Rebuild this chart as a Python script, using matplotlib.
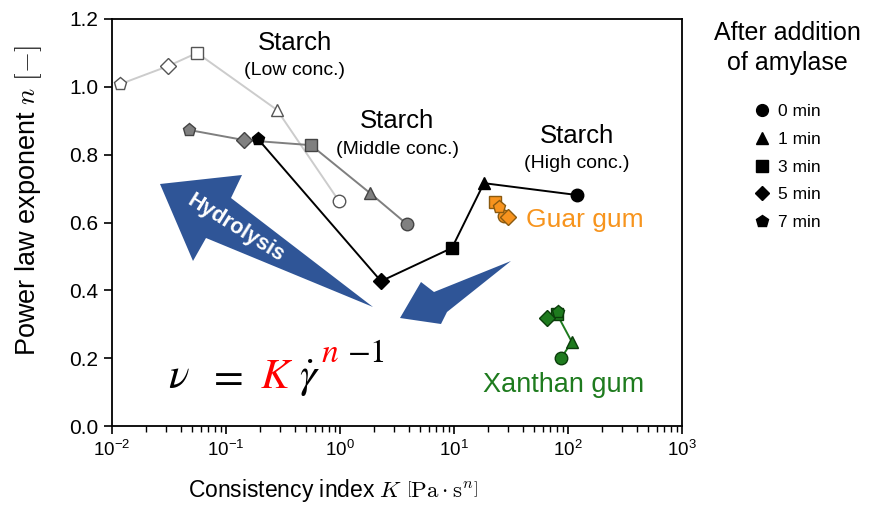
import matplotlib
matplotlib.use("Agg")
import matplotlib.pyplot as plt
from matplotlib.lines import Line2D
from matplotlib.patches import Polygon
import numpy as np

plt.rcParams['font.family'] = ['Liberation Sans', 'DejaVu Sans']
plt.rcParams['mathtext.fontset'] = 'custom'
plt.rcParams['mathtext.rm'] = 'Liberation Sans'
plt.rcParams['mathtext.it'] = 'Liberation Sans:italic'
plt.rcParams['mathtext.bf'] = 'Liberation Sans:bold'

W, H = 874, 513

# ---------------- data ----------------
times = [0, 1, 3, 5, 7]
markers = ['o', '^', 's', 'D', 'p']
legend_labels = ['0 min', '1 min', '3 min', '5 min', '7 min']

low_K = [0.98, 0.28, 0.0557, 0.031, 0.0118]
low_n = [0.663, 0.932, 1.10, 1.061, 1.008]

mid_K = [3.87, 1.83, 0.557, 0.144, 0.047]
mid_n = [0.595, 0.687, 0.828, 0.843, 0.873]

high_K = [120, 18.3, 9.6, 2.29, 0.191]
high_n = [0.681, 0.716, 0.525, 0.427, 0.846]

guar_times = [0, 3, 5, 7]
guar_K = [27.5, 22.9, 29.8, 24.8]
guar_n = [0.619, 0.660, 0.616, 0.646]

xan_K = [86.9, 108, 80, 65.5, 81.7]
xan_n = [0.200, 0.248, 0.330, 0.318, 0.336]

xticks = [1e-2, 1e-1, 1e0, 1e1, 1e2, 1e3]
yticks = [0.0, 0.2, 0.4, 0.6, 0.8, 1.0, 1.2]
ytick_labels = ['0.0', '0.2', '0.4', '0.6', '0.8', '1.0', '1.2']

# ---------------- figure ----------------
fig = plt.figure(figsize=(W / 100, H / 100), dpi=100)
ax = fig.add_axes([112 / W, 1 - 426 / H, (682 - 112) / W, (426 - 19) / H])
ax.set_xscale('log')
ax.set_xlim(1e-2, 1e3)
ax.set_ylim(0, 1.2)
ax.set_xticks(xticks)
ax.set_yticks(yticks)
ax.set_yticklabels(ytick_labels)
for s in ax.spines.values():
    s.set_linewidth(1.3)
ax.tick_params(which='major', direction='out', length=6, width=1.2, pad=4)
ax.tick_params(axis='x', which='major', labelsize=13.5)
ax.tick_params(axis='y', which='major', labelsize=15)
ax.tick_params(which='minor', direction='out', length=4, width=1.0)
ax.tick_params(axis='y', which='minor', left=False)

ms = 9
mk_size = {'o': ms, '^': ms, 's': ms - 0.5, 'D': ms - 1, 'p': ms + 0.5}


def series(K, n, tlist, line_c, face, edge, lw=1.4):
    ax.plot(K, n, '-', color=line_c, lw=lw, zorder=2)
    for k, v, t in zip(K, n, tlist):
        m = markers[times.index(t)]
        ax.plot([k], [v], linestyle='none', marker=m, markersize=mk_size[m],
                markerfacecolor=face, markeredgecolor=edge, markeredgewidth=1.0, zorder=3)


series(low_K, low_n, times, '#cccccc', 'white', '#555555')
series(mid_K, mid_n, times, '#7f7f7f', '#808080', '#444444')
series(high_K, high_n, times, '#000000', '#000000', '#000000')
series(guar_K, guar_n, guar_times, '#8a5a10', '#F7931E', '#8a5a10', lw=1.0)
series(xan_K, xan_n, times, '#1E7B1E', '#1E7B1E', '#0b3d0b', lw=1.4)


def px(x, y):
    return (x / W, 1 - y / H)


# labels
ax.set_ylabel(r'Power law exponent $n\ [-]$', fontsize=19.5, math_fontfamily='cm')
ax.yaxis.set_label_coords((44 - 112) / 570, 0.555)
ax.set_xlabel(r'Consistency index $K\ \left[\mathrm{Pa}\cdot\mathrm{s}^{n}\right]$',
              fontsize=16.5, math_fontfamily='cm')
ax.xaxis.set_label_coords((333 - 112) / 570, -(477 - 426) / 407)


def ftxt(x, y, s, size, color='black', **kw):
    fig.text(*px(x, y), s, fontsize=size, color=color, ha='center', va='center', **kw)


ftxt(295, 43, 'Starch', 18.5)
ftxt(295, 71, '(Low conc.)', 14)
ftxt(397, 121, 'Starch', 18.5)
ftxt(397, 149, '(Middle conc.)', 14)
ftxt(577, 136, 'Starch', 18.5)
ftxt(577, 164, '(High conc.)', 14)
ftxt(585, 220, 'Guar gum', 19, color='#F7941D')
ftxt(564, 385, 'Xanthan gum', 19.5, color='#1E7B1E')

# arrows
arrow_col = '#2F5597'
big = [(160, 184), (242, 175), (231, 198), (373, 307), (206, 238), (193, 261)]
small = [(400, 318), (421, 282), (434, 292), (511, 261), (447, 312), (441, 324)]
for poly in (big, small):
    fig.patches.append(Polygon([px(*p) for p in poly], closed=True, transform=fig.transFigure,
                               facecolor=arrow_col, edgecolor='none', zorder=1))
fig.text(*px(236, 228), 'Hydrolysis', fontsize=15.5, fontweight='bold', color='white',
         rotation=-32, ha='center', va='center', rotation_mode='anchor')

# legend title and entries
fig.text(*px(787, 33), 'After addition', fontsize=18, ha='center', va='center')
fig.text(*px(787, 63), 'of amylase', fontsize=18, ha='center', va='center')
handles = [Line2D([], [], linestyle='none', marker=m, color='black', markersize=mk_size[m] - 0.5)
           for m in markers]
leg = fig.legend(handles, legend_labels, loc='upper center', bbox_to_anchor=px(786, 92),
                 frameon=False, fontsize=12.5, handlelength=1.2, handletextpad=0.35,
                 labelspacing=0.72, borderpad=0.2)

# equation with coloured pieces (ν = K γ̇^{n−1}); each piece's left edge put at its place
fig.canvas.draw()
r = fig.canvas.get_renderer()
base_y = 1 - 388 / H
sup_y = 1 - 362 / H
pieces = [(168, r'$\nu$', 'black', 31, base_y),
          (207, r'$=$', 'black', 31, base_y),
          (260, r'$K$', 'red', 31, base_y),
          (299, r'$\dot{\gamma}$', 'black', 31, base_y),
          (321, r'$n$', 'red', 24, sup_y),
          (348, '\u22121', 'black', 24, sup_y)]
for xx, s, c, fs, yy in pieces:
    t = fig.text(xx / W, yy, s, fontsize=fs, color=c, math_fontfamily='stix',
                 family='STIXGeneral' if not s.startswith('$') else None,
                 ha='left', va='baseline')
    bb = t.get_window_extent(r)
    t.set_x(t.get_position()[0] + (xx - bb.x0) / W)

fig.savefig('out.png', dpi=100)
